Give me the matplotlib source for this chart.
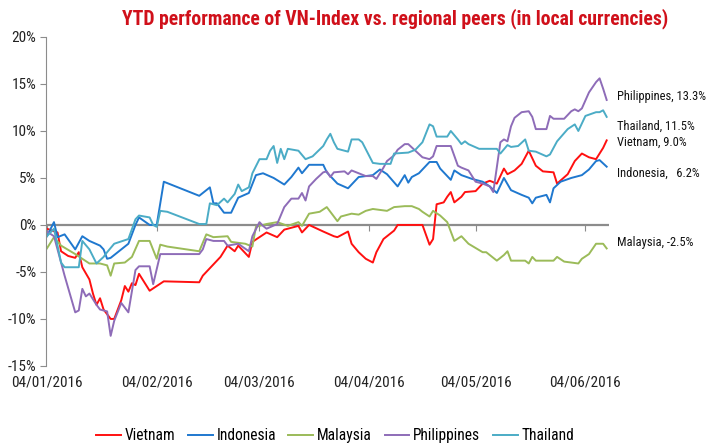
import pandas as pd
import matplotlib
matplotlib.use('Agg')
import matplotlib.pyplot as plt
import matplotlib.dates as mdates
import matplotlib.transforms as mtransforms
from matplotlib import font_manager
from matplotlib.ticker import PercentFormatter

# pick a narrow face if one is installed
installed = {(f.name, f.stretch) for f in font_manager.fontManager.ttflist}
names = {n for n, _ in installed}
font_kw = {'family': ['Liberation Sans', 'DejaVu Sans']}
for cand in ['Liberation Sans Narrow', 'Roboto Condensed', 'Open Sans Condensed',
             'Noto Sans Condensed', 'Arial Narrow']:
    if cand in names:
        font_kw = {'family': [cand, 'DejaVu Sans']}
        break
else:
    if ('DejaVu Sans', 'condensed') in installed:
        font_kw = {'family': ['DejaVu Sans'], 'stretch': 'condensed'}

plt.rcParams['font.family'] = font_kw['family']
if 'stretch' in font_kw:
    plt.rcParams['font.stretch'] = font_kw['stretch']
plt.rcParams['axes.unicode_minus'] = False

# YTD performance, %
vn_dates = ['2016-01-04', '2016-01-07', '2016-01-08', '2016-01-10', '2016-01-12', '2016-01-13',
            '2016-01-14', '2016-01-16', '2016-01-17', '2016-01-18', '2016-01-19', '2016-01-20',
            '2016-01-22', '2016-01-23', '2016-01-25', '2016-01-26', '2016-01-27', '2016-01-28',
            '2016-01-29', '2016-01-30', '2016-02-02', '2016-02-06', '2016-02-16', '2016-02-17',
            '2016-02-19', '2016-02-22', '2016-02-24', '2016-02-26', '2016-02-27', '2016-03-01',
            '2016-03-02', '2016-03-04', '2016-03-06', '2016-03-09', '2016-03-11', '2016-03-15',
            '2016-03-16', '2016-03-18', '2016-03-22', '2016-03-25', '2016-03-26', '2016-03-29',
            '2016-03-30', '2016-04-01', '2016-04-03', '2016-04-05', '2016-04-06', '2016-04-08',
            '2016-04-11', '2016-04-12', '2016-04-15', '2016-04-19', '2016-04-21', '2016-04-22',
            '2016-04-23', '2016-04-25', '2016-04-26', '2016-04-27', '2016-04-28', '2016-04-30',
            '2016-05-01', '2016-05-04', '2016-05-06', '2016-05-08', '2016-05-10', '2016-05-12',
            '2016-05-13', '2016-05-15', '2016-05-17', '2016-05-19', '2016-05-21', '2016-05-23',
            '2016-05-26', '2016-05-27', '2016-05-30', '2016-06-01', '2016-06-03', '2016-06-05',
            '2016-06-07', '2016-06-09', '2016-06-10']
vn_vals = [-0.4, -0.8, -2.8, -3.3, -3.5, -2.9,
           -4.5, -5.8, -7.3, -8.5, -7.8, -9.0,
           -10.0, -10.0, -8.0, -6.5, -7.1, -6.2,
           -6.4, -5.2, -7.0, -6.0, -6.1, -5.4,
           -4.6, -3.4, -2.2, -2.8, -2.2, -3.4,
           -1.8, -1.3, -0.8, -1.3, -0.5, -0.1,
           -0.8, 0.0, -0.7, -1.2, -1.3, -0.7,
           -2.0, -2.9, -3.6, -4.0, -2.9, -1.5,
           -0.6, 0.0, 0.0, 0.0, -2.1, -1.5,
           2.2, 2.4, 3.0, 3.5, 2.4, 3.0,
           3.5, 3.6, 4.4, 4.7, 4.4, 6.0,
           5.4, 5.8, 6.5, 7.9, 6.3, 5.7,
           5.6, 4.4, 5.4, 6.8, 7.6, 7.2,
           7.0, 8.2, 9.0]

id_dates = ['2016-01-04', '2016-01-06', '2016-01-07', '2016-01-09', '2016-01-12', '2016-01-14',
            '2016-01-16', '2016-01-19', '2016-01-20', '2016-01-21', '2016-01-22', '2016-01-27',
            '2016-01-29', '2016-01-30', '2016-02-02', '2016-02-04', '2016-02-06', '2016-02-16',
            '2016-02-19', '2016-02-20', '2016-02-21', '2016-02-23', '2016-02-25', '2016-02-27',
            '2016-03-01', '2016-03-03', '2016-03-05', '2016-03-08', '2016-03-11', '2016-03-13',
            '2016-03-15', '2016-03-16', '2016-03-18', '2016-03-22', '2016-03-23', '2016-03-26',
            '2016-03-29', '2016-04-01', '2016-04-05', '2016-04-07', '2016-04-09', '2016-04-12',
            '2016-04-14', '2016-04-15', '2016-04-16', '2016-04-18', '2016-04-21', '2016-04-23',
            '2016-04-24', '2016-04-27', '2016-04-28', '2016-04-30', '2016-05-03', '2016-05-06',
            '2016-05-08', '2016-05-10', '2016-05-12', '2016-05-14', '2016-05-17', '2016-05-19',
            '2016-05-20', '2016-05-21', '2016-05-24', '2016-05-25', '2016-05-26', '2016-05-28',
            '2016-05-31', '2016-06-03', '2016-06-05', '2016-06-07', '2016-06-08', '2016-06-10']
id_vals = [-1.2, 0.3, -1.3, -1.0, -2.6, -1.2,
           -1.7, -2.2, -2.6, -3.6, -3.5, -2.0,
           0.0, 0.8, 0.0, 0.0, 4.6, 3.1,
           4.0, 2.3, 2.3, 1.3, 1.3, 2.9,
           3.4, 5.3, 5.5, 5.0, 4.3, 5.1,
           6.1, 5.5, 6.4, 6.4, 5.6, 4.4,
           3.9, 5.1, 5.3, 5.9, 5.4, 4.1,
           5.3, 4.5, 5.1, 5.5, 6.7, 6.7,
           6.0, 4.8, 5.8, 5.3, 4.9, 4.6,
           4.1, 3.4, 5.0, 3.7, 3.2, 2.9,
           2.3, 2.9, 3.2, 2.4, 3.9, 4.6,
           5.0, 5.3, 5.9, 6.8, 6.9, 6.2]

my_dates = ['2016-01-04', '2016-01-06', '2016-01-08', '2016-01-12', '2016-01-16', '2016-01-19',
            '2016-01-21', '2016-01-22', '2016-01-23', '2016-01-26', '2016-01-28', '2016-01-30',
            '2016-02-02', '2016-02-04', '2016-02-05', '2016-02-07', '2016-02-16', '2016-02-18',
            '2016-02-20', '2016-02-24', '2016-02-25', '2016-02-29', '2016-03-02', '2016-03-03',
            '2016-03-06', '2016-03-09', '2016-03-12', '2016-03-15', '2016-03-16', '2016-03-18',
            '2016-03-21', '2016-03-23', '2016-03-25', '2016-03-26', '2016-03-27', '2016-03-30',
            '2016-04-01', '2016-04-03', '2016-04-05', '2016-04-09', '2016-04-11', '2016-04-14',
            '2016-04-16', '2016-04-18', '2016-04-19', '2016-04-21', '2016-04-22', '2016-04-24',
            '2016-04-26', '2016-04-28', '2016-04-30', '2016-05-02', '2016-05-06', '2016-05-07',
            '2016-05-10', '2016-05-12', '2016-05-13', '2016-05-14', '2016-05-18', '2016-05-19',
            '2016-05-20', '2016-05-21', '2016-05-26', '2016-05-27', '2016-05-29', '2016-06-02',
            '2016-06-03', '2016-06-05', '2016-06-07', '2016-06-09', '2016-06-10']
my_vals = [-2.5, -1.3, -2.2, -3.1, -4.1, -4.1,
           -4.3, -5.4, -4.1, -4.0, -3.4, -1.7,
           -1.7, -3.6, -2.1, -2.3, -2.8, -1.0,
           -1.3, -1.2, -1.8, -2.0, -2.3, -0.2,
           0.1, 0.3, -0.1, 0.3, -0.1, 1.2,
           1.4, 1.9, 0.9, 0.4, 0.9, 1.2,
           1.1, 1.5, 1.7, 1.5, 1.9, 2.0,
           2.0, 1.7, 1.4, 0.9, 1.5, 1.0,
           0.3, -1.7, -1.2, -2.0, -2.9, -2.9,
           -3.8, -3.2, -2.8, -3.8, -3.8, -4.1,
           -3.4, -3.8, -3.8, -3.4, -3.9, -4.1,
           -3.6, -3.1, -2.0, -2.0, -2.5]

ph_dates = ['2016-01-04', '2016-01-06', '2016-01-07', '2016-01-09', '2016-01-12', '2016-01-13',
            '2016-01-14', '2016-01-15', '2016-01-16', '2016-01-18', '2016-01-19', '2016-01-21',
            '2016-01-22', '2016-01-23', '2016-01-25', '2016-01-27', '2016-01-29', '2016-01-30',
            '2016-02-02', '2016-02-03', '2016-02-05', '2016-02-16', '2016-02-17', '2016-02-18',
            '2016-02-20', '2016-02-23', '2016-02-24', '2016-02-27', '2016-03-01', '2016-03-02',
            '2016-03-04', '2016-03-05', '2016-03-06', '2016-03-09', '2016-03-11', '2016-03-13',
            '2016-03-15', '2016-03-16', '2016-03-17', '2016-03-18', '2016-03-20', '2016-03-22',
            '2016-03-23', '2016-03-24', '2016-03-25', '2016-03-28', '2016-03-29', '2016-03-30',
            '2016-04-01', '2016-04-03', '2016-04-05', '2016-04-06', '2016-04-08', '2016-04-09',
            '2016-04-11', '2016-04-12', '2016-04-14', '2016-04-15', '2016-04-17', '2016-04-19',
            '2016-04-21', '2016-04-22', '2016-04-23', '2016-04-27', '2016-04-29', '2016-04-30',
            '2016-05-02', '2016-05-04', '2016-05-06', '2016-05-08', '2016-05-09', '2016-05-11',
            '2016-05-12', '2016-05-13', '2016-05-14', '2016-05-15', '2016-05-17', '2016-05-19',
            '2016-05-20', '2016-05-21', '2016-05-24', '2016-05-25', '2016-05-26', '2016-05-29',
            '2016-05-31', '2016-06-01', '2016-06-02', '2016-06-03', '2016-06-05', '2016-06-07',
            '2016-06-08', '2016-06-09', '2016-06-10']
ph_vals = [-0.7, -1.2, -2.6, -5.4, -9.3, -9.1,
           -6.8, -7.6, -7.3, -8.5, -9.0, -9.2,
           -11.8, -10.2, -8.3, -9.3, -4.8, -4.4,
           -4.4, -6.3, -3.1, -3.1, -2.6, -1.5,
           -1.7, -1.7, -2.2, -2.0, -2.8, -1.2,
           0.3, -0.1, -0.4, 0.1, 1.9, 2.8,
           2.8, 3.4, 2.6, 4.1, 4.9, 5.6,
           5.7, 5.1, 5.6, 5.7, 5.4, 5.8,
           5.5, 5.2, 5.2, 4.9, 6.1, 6.8,
           7.4, 8.0, 8.6, 8.6, 7.9, 7.2,
           7.0, 7.3, 8.4, 8.4, 6.3, 6.1,
           5.8, 4.6, 4.4, 4.1, 3.5, 8.8,
           9.1, 8.9, 10.5, 11.4, 12.0, 12.1,
           11.5, 10.2, 10.2, 11.6, 11.3, 11.3,
           12.1, 12.3, 12.1, 12.4, 14.1, 15.2,
           15.6, 14.5, 13.3]

th_dates = ['2016-01-04', '2016-01-06', '2016-01-07', '2016-01-08', '2016-01-09', '2016-01-13',
            '2016-01-14', '2016-01-16', '2016-01-18', '2016-01-20', '2016-01-21', '2016-01-23',
            '2016-01-27', '2016-01-29', '2016-01-30', '2016-02-02', '2016-02-03', '2016-02-04',
            '2016-02-05', '2016-02-07', '2016-02-16', '2016-02-18', '2016-02-19', '2016-02-21',
            '2016-02-23', '2016-02-24', '2016-02-26', '2016-02-27', '2016-02-28', '2016-03-01',
            '2016-03-02', '2016-03-04', '2016-03-06', '2016-03-07', '2016-03-08', '2016-03-09',
            '2016-03-10', '2016-03-11', '2016-03-12', '2016-03-15', '2016-03-17', '2016-03-19',
            '2016-03-22', '2016-03-23', '2016-03-24', '2016-03-25', '2016-03-26', '2016-03-29',
            '2016-03-30', '2016-04-01', '2016-04-02', '2016-04-05', '2016-04-07', '2016-04-10',
            '2016-04-11', '2016-04-15', '2016-04-17', '2016-04-19', '2016-04-21', '2016-04-22',
            '2016-04-23', '2016-04-26', '2016-04-27', '2016-04-29', '2016-04-30', '2016-05-01',
            '2016-05-02', '2016-05-05', '2016-05-10', '2016-05-11', '2016-05-13', '2016-05-14',
            '2016-05-16', '2016-05-18', '2016-05-19', '2016-05-21', '2016-05-24', '2016-05-25',
            '2016-05-27', '2016-05-30', '2016-06-01', '2016-06-02', '2016-06-04', '2016-06-07',
            '2016-06-08', '2016-06-09', '2016-06-10']
th_vals = [-1.2, -0.4, -2.2, -4.0, -4.5, -4.5,
           -1.7, -2.6, -4.1, -3.4, -2.9, -2.0,
           -1.5, 0.6, 1.0, 0.8, 0.0, -0.2,
           1.5, 1.4, 0.1, 0.1, 2.3, 2.1,
           2.8, 2.4, 3.3, 4.3, 3.6, 4.0,
           5.5, 7.0, 7.0, 7.9, 8.4, 6.6,
           8.1, 7.0, 8.1, 7.9, 7.0, 7.3,
           8.4, 9.1, 9.7, 8.8, 8.1, 7.8,
           9.1, 9.1, 8.8, 6.6, 6.5, 6.5,
           7.6, 7.7, 8.0, 8.8, 10.7, 10.5,
           9.4, 9.4, 10.0, 9.1, 8.6, 8.9,
           8.6, 8.1, 8.1, 7.6, 8.5, 8.3,
           8.4, 9.1, 7.9, 7.8, 7.3, 7.5,
           8.9, 10.2, 10.7, 10.0, 11.6, 12.0,
           12.0, 12.2, 11.5]

countries = ['Vietnam', 'Indonesia', 'Malaysia', 'Philippines', 'Thailand']
colors = ['#FF1010', '#1F78CF', '#9BBB59', '#8E6CB8', '#4BACC6']
end_labels = ['Vietnam, 9.0%', 'Indonesia,   6.2%', 'Malaysia, -2.5%',
              'Philippines, 13.3%', 'Thailand, 11.5%']
label_y = [8.8, 5.5, -1.9, 13.7, 10.5]

series = [(vn_dates, vn_vals), (id_dates, id_vals), (my_dates, my_vals),
          (ph_dates, ph_vals), (th_dates, th_vals)]

fig = plt.figure(figsize=(7.1, 4.43), dpi=100)
ax = fig.add_axes([0.0648, 0.174, 0.793, 0.7425])

for name, col, (d, v) in zip(countries, colors, series):
    ax.plot(pd.to_datetime(d), v, color=col, lw=1.4, label=name)

ax.axhline(0, color='#8c8c8c', lw=1.6, zorder=0)

ax.set_ylim(-15, 20)
ax.set_yticks(range(-15, 21, 5))
ax.yaxis.set_major_formatter(PercentFormatter(decimals=0))
ax.set_xlim(pd.Timestamp('2016-01-03 18:00'), pd.Timestamp('2016-06-10 16:00'))

month_ticks = pd.to_datetime(['2016-01-04', '2016-02-04', '2016-03-04',
                              '2016-04-04', '2016-05-04', '2016-06-04'])

# tick marks sit on the zero line, labels at the bottom
ax.spines['bottom'].set_position(('data', 0))
ax.spines['bottom'].set_visible(False)
ax.spines['top'].set_visible(False)
ax.spines['right'].set_visible(False)
ax.spines['left'].set_color('#8c8c8c')
ax.set_xticks(month_ticks)
ax.tick_params(axis='x', length=4, color='#8c8c8c', labelbottom=False)
ax.tick_params(axis='y', length=4, color='#8c8c8c', labelsize=11, pad=3,
               labelcolor='#222222')

sec = ax.secondary_xaxis(0)
sec.set_xticks(month_ticks)
sec.xaxis.set_major_formatter(mdates.DateFormatter('%d/%m/%Y'))
sec.tick_params(length=0, labelsize=11, pad=7, labelcolor='#222222')
sec.spines['bottom'].set_visible(False)

trans = mtransforms.blended_transform_factory(ax.transAxes, ax.transData)
for txt, y in zip(end_labels, label_y):
    ax.text(1.014, y, txt, transform=trans, fontsize=9, va='center', ha='left',
            color='#111111')

fig.text(0.556, 0.958, 'YTD performance of VN-Index vs. regional peers (in local currencies)',
         ha='center', va='center', fontsize=14.2, fontweight='bold', color='#D0101A')

fig.legend(loc='lower center', bbox_to_anchor=(0.472, -0.032), ncol=5, frameon=False,
           fontsize=11.2, handlelength=1.6, columnspacing=0.8, handletextpad=0.25)

plt.savefig('out.png', dpi=100)
